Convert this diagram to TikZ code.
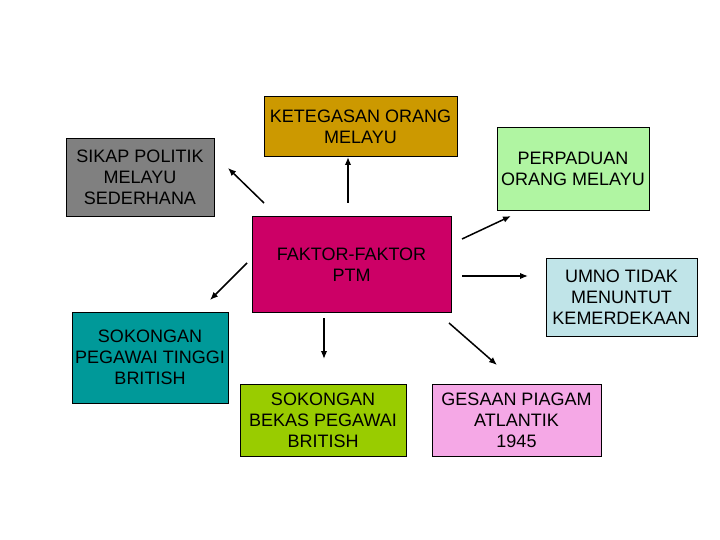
\documentclass[tikz,border=0pt]{standalone}
\usepackage{fontspec}
\setmainfont{Liberation Sans}
\usetikzlibrary{positioning,arrows.meta}
\definecolor{gold}{HTML}{CC9900}
\definecolor{slate}{HTML}{808080}
\definecolor{mint}{HTML}{B0F5A2}
\definecolor{berry}{HTML}{CC0066}
\definecolor{frost}{HTML}{C0E4E8}
\definecolor{teal}{HTML}{009999}
\definecolor{lime}{HTML}{99CC00}
\definecolor{orchid}{HTML}{F5A8E6}
\begin{document}
\begin{tikzpicture}[
    x=1pt, y=-1pt,
    factor/.style={
        draw=black,
        line width=0.8pt,
        inner sep=1pt,
        align=center,
        font=\fontsize{18}{21}\selectfont,
        text=black,
    },
    caption/.style={
        inner sep=0pt,
        align=center,
        font=\fontsize{18}{21}\selectfont,
        text=black,
    },
    arrow/.style={
        line width=1.5pt,
        -{Latex[length=8pt,width=6.5pt]},
    },
]
\useasboundingbox (0,0) rectangle (720,540);

\node[factor, fill=gold, minimum width=193, minimum height=60] (ketegasan) at (360.5,126) {};
\node[caption, below=14pt of ketegasan.north] (ketegasanText) {KETEGASAN ORANG\\MELAYU};
\node[factor, fill=slate, minimum width=148, minimum height=78] (sikap) at (140,177) {SIKAP POLITIK\\MELAYU\\SEDERHANA};
\node[factor, fill=mint, minimum width=152, minimum height=83] (perpaduan) at (573,168.5) {PERPADUAN\\ORANG MELAYU};
\node[factor, fill=berry, minimum width=199, minimum height=96] (ptm) at (351.5,264) {};
\node[caption, below=32pt of ptm.north] (ptmText) {FAKTOR-FAKTOR\\PTM};
\node[factor, fill=frost, minimum width=151, minimum height=78] (umno) at (621.5,297) {UMNO TIDAK\\MENUNTUT\\KEMERDEKAAN};
\node[factor, fill=teal, minimum width=156, minimum height=91] (pegawai) at (150,357.5) {SOKONGAN\\PEGAWAI TINGGI\\BRITISH};
\node[factor, fill=lime, minimum width=166, minimum height=72] (bekas) at (323,420) {SOKONGAN\\BEKAS PEGAWAI\\BRITISH};
\node[factor, fill=orchid, minimum width=169, minimum height=72] (gesaan) at (516.5,420) {GESAAN PIAGAM\\ATLANTIK\\1945};

\coordinate (s1) at (348,203); \coordinate (e1) at (348,157);
\coordinate (s2) at (264,203); \coordinate (e2) at (228,168);
\coordinate (s3) at (462,239); \coordinate (e3) at (511,216);
\coordinate (s4) at (462,276); \coordinate (e4) at (528,276);
\coordinate (s5) at (449,323); \coordinate (e5) at (497,365);
\coordinate (s6) at (247,263); \coordinate (e6) at (210,300);
\coordinate (s7) at (324,318); \coordinate (e7) at (324,359);

\foreach \i in {1,...,7}
    \draw[arrow] (s\i) -- (e\i);

\end{tikzpicture}
\end{document}
